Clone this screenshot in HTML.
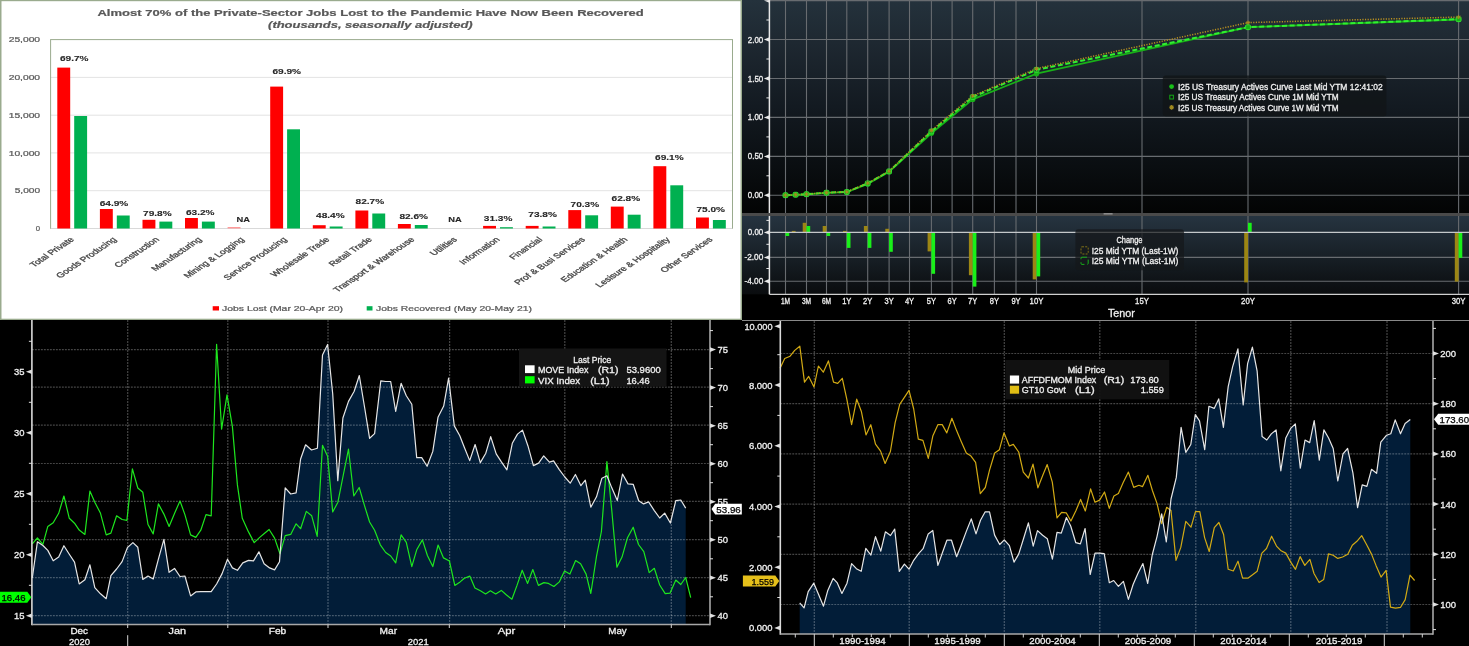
<!DOCTYPE html><html><head><meta charset="utf-8"><style>html,body{margin:0;padding:0;background:#000;overflow:hidden}svg{display:block;will-change:transform}text{font-family:"Liberation Sans",sans-serif}</style></head><body>
<svg width="1469" height="646" viewBox="0 0 1469 646">
<rect x="0" y="320" width="742" height="326" fill="#000"/>
<polygon points="32.3,624.5 32.3,578.0 37.4,541.8 42.9,545.5 47.8,550.4 53.2,560.8 58.7,557.1 63.9,545.7 69.3,554.2 74.5,562.1 79.2,583.9 84.9,579.7 89.9,564.8 94.8,587.6 100.5,593.8 106.2,598.7 110.9,575.7 116.6,569.0 122.1,561.6 127.4,547.6 132.9,542.6 137.8,547.3 142.8,579.5 148.0,576.0 153.2,579.0 158.4,559.2 163.9,539.4 169.1,572.3 174.5,568.4 180.0,576.5 184.9,576.0 190.6,595.9 195.8,591.9 200.8,591.7 206.0,591.7 211.2,591.7 216.6,584.0 222.1,573.6 227.5,559.2 232.4,567.9 237.4,570.3 242.8,562.9 248.5,560.4 253.5,560.9 258.9,551.8 264.1,563.7 269.6,567.9 274.6,569.9 279.5,561.7 285.2,487.8 290.7,494.0 296.1,492.8 300.6,459.0 305.6,444.8 311.5,450.0 317.4,448.2 322.5,354.9 327.6,344.5 332.7,393.7 337.8,480.6 342.9,418.0 348.5,401.4 354.2,391.2 359.3,375.5 364.7,408.0 369.6,438.3 374.6,433.6 380.8,380.8 385.7,381.5 390.7,381.5 395.7,411.3 401.1,383.3 406.3,395.7 411.8,404.3 416.7,457.6 421.7,457.6 427.1,466.3 432.8,451.4 438.0,417.3 443.7,406.1 448.6,378.0 454.3,425.9 459.8,435.8 464.7,448.2 469.7,460.6 475.1,444.5 480.3,462.6 485.8,453.2 490.7,436.6 496.2,453.9 501.4,461.9 506.9,469.8 512.3,443.3 517.5,434.1 522.5,430.1 527.9,445.7 533.4,465.6 538.6,463.1 543.7,455.9 549.4,462.1 553.6,460.9 559.3,469.6 564.8,477.0 570.2,483.2 575.4,474.5 580.9,485.7 585.3,480.2 590.8,507.2 596.5,496.8 601.9,478.2 606.9,475.7 611.9,488.1 617.3,500.5 622.5,474.0 628.0,483.9 633.2,484.3 638.7,500.7 643.6,503.9 648.6,501.9 654.3,510.6 659.7,518.0 664.7,513.1 670.4,523.0 675.8,500.7 680.8,500.0 685.7,508.1 685.7,624.5" fill="#021d38"/>
<line x1="31.9" y1="349.7" x2="710.0" y2="349.7" stroke="#ffffff" stroke-opacity="0.27" stroke-width="1.2" stroke-dasharray="1.9 1.1"/>
<line x1="31.9" y1="387.1" x2="710.0" y2="387.1" stroke="#ffffff" stroke-opacity="0.27" stroke-width="1.2" stroke-dasharray="1.9 1.1"/>
<line x1="31.9" y1="425.2" x2="710.0" y2="425.2" stroke="#ffffff" stroke-opacity="0.27" stroke-width="1.2" stroke-dasharray="1.9 1.1"/>
<line x1="31.9" y1="463.5" x2="710.0" y2="463.5" stroke="#ffffff" stroke-opacity="0.27" stroke-width="1.2" stroke-dasharray="1.9 1.1"/>
<line x1="31.9" y1="501.4" x2="710.0" y2="501.4" stroke="#ffffff" stroke-opacity="0.27" stroke-width="1.2" stroke-dasharray="1.9 1.1"/>
<line x1="31.9" y1="539.6" x2="710.0" y2="539.6" stroke="#ffffff" stroke-opacity="0.27" stroke-width="1.2" stroke-dasharray="1.9 1.1"/>
<line x1="31.9" y1="577.6" x2="710.0" y2="577.6" stroke="#ffffff" stroke-opacity="0.27" stroke-width="1.2" stroke-dasharray="1.9 1.1"/>
<line x1="31.9" y1="615.7" x2="710.0" y2="615.7" stroke="#ffffff" stroke-opacity="0.27" stroke-width="1.2" stroke-dasharray="1.9 1.1"/>
<line x1="127.7" y1="320" x2="127.7" y2="624.5" stroke="#ffffff" stroke-opacity="0.27" stroke-width="1.2" stroke-dasharray="1.9 1.1"/>
<line x1="227.8" y1="320" x2="227.8" y2="624.5" stroke="#ffffff" stroke-opacity="0.27" stroke-width="1.2" stroke-dasharray="1.9 1.1"/>
<line x1="328.0" y1="320" x2="328.0" y2="624.5" stroke="#ffffff" stroke-opacity="0.27" stroke-width="1.2" stroke-dasharray="1.9 1.1"/>
<line x1="449.6" y1="320" x2="449.6" y2="624.5" stroke="#ffffff" stroke-opacity="0.27" stroke-width="1.2" stroke-dasharray="1.9 1.1"/>
<line x1="564.8" y1="320" x2="564.8" y2="624.5" stroke="#ffffff" stroke-opacity="0.27" stroke-width="1.2" stroke-dasharray="1.9 1.1"/>
<line x1="671.3" y1="320" x2="671.3" y2="624.5" stroke="#ffffff" stroke-opacity="0.27" stroke-width="1.2" stroke-dasharray="1.9 1.1"/>
<polyline points="32.3,543.8 37.4,538.0 42.9,544.3 47.8,526.4 53.2,522.7 58.7,513.3 63.9,496.0 69.3,518.3 74.5,523.2 79.2,530.1 84.9,534.4 89.9,491.0 94.8,502.2 100.5,513.3 106.2,534.9 110.9,533.1 116.6,515.8 122.1,519.5 126.9,520.3 132.4,468.8 137.8,488.0 142.8,492.3 148.0,524.5 153.2,533.9 158.4,503.9 163.9,514.1 169.1,526.5 174.5,513.4 180.0,501.0 184.9,514.6 190.6,534.9 195.8,537.4 200.8,530.2 206.0,514.6 211.2,515.8 216.6,344.4 221.6,429.1 227.0,394.9 232.4,426.6 237.4,484.9 242.3,518.3 248.5,531.9 254.2,542.6 259.7,537.4 264.6,533.2 269.1,529.5 274.6,538.1 280.0,553.7 285.2,535.7 290.7,534.4 296.1,523.8 300.6,528.7 306.3,511.4 311.7,515.8 317.2,536.4 322.5,445.3 327.6,456.3 332.7,512.0 337.9,502.2 343.2,475.5 348.5,449.2 353.8,496.0 359.2,487.5 364.2,504.7 369.6,522.0 374.6,530.2 380.3,544.8 385.7,552.5 390.7,556.0 395.7,562.9 401.1,534.9 406.3,542.3 411.8,566.6 416.7,549.8 422.4,539.9 427.4,555.5 432.8,566.6 438.1,545.0 443.5,557.9 449.4,561.0 454.8,585.4 460.1,581.9 464.4,578.3 469.8,576.1 474.9,588.0 480.4,590.8 485.6,593.9 490.4,590.8 495.7,593.9 501.3,590.4 506.5,595.0 511.9,599.2 517.0,585.4 522.2,570.2 527.6,583.4 532.8,569.5 538.4,585.4 543.9,582.6 548.5,583.4 553.9,586.5 559.3,581.9 564.5,571.0 569.9,574.1 575.6,560.5 580.6,563.7 586.1,574.1 590.8,593.5 596.5,556.3 601.4,531.5 606.9,461.6 611.9,511.7 616.9,567.2 622.0,557.1 627.5,537.7 633.2,527.2 638.5,544.5 643.8,551.6 649.2,572.6 654.3,568.3 659.7,585.0 665.2,593.6 670.1,593.1 675.8,580.0 680.8,584.5 685.7,577.5 690.7,597.6" fill="none" stroke="#1ee61e" stroke-width="1.2" stroke-linejoin="round"/>
<polyline points="32.3,578.0 37.4,541.8 42.9,545.5 47.8,550.4 53.2,560.8 58.7,557.1 63.9,545.7 69.3,554.2 74.5,562.1 79.2,583.9 84.9,579.7 89.9,564.8 94.8,587.6 100.5,593.8 106.2,598.7 110.9,575.7 116.6,569.0 122.1,561.6 127.4,547.6 132.9,542.6 137.8,547.3 142.8,579.5 148.0,576.0 153.2,579.0 158.4,559.2 163.9,539.4 169.1,572.3 174.5,568.4 180.0,576.5 184.9,576.0 190.6,595.9 195.8,591.9 200.8,591.7 206.0,591.7 211.2,591.7 216.6,584.0 222.1,573.6 227.5,559.2 232.4,567.9 237.4,570.3 242.8,562.9 248.5,560.4 253.5,560.9 258.9,551.8 264.1,563.7 269.6,567.9 274.6,569.9 279.5,561.7 285.2,487.8 290.7,494.0 296.1,492.8 300.6,459.0 305.6,444.8 311.5,450.0 317.4,448.2 322.5,354.9 327.6,344.5 332.7,393.7 337.8,480.6 342.9,418.0 348.5,401.4 354.2,391.2 359.3,375.5 364.7,408.0 369.6,438.3 374.6,433.6 380.8,380.8 385.7,381.5 390.7,381.5 395.7,411.3 401.1,383.3 406.3,395.7 411.8,404.3 416.7,457.6 421.7,457.6 427.1,466.3 432.8,451.4 438.0,417.3 443.7,406.1 448.6,378.0 454.3,425.9 459.8,435.8 464.7,448.2 469.7,460.6 475.1,444.5 480.3,462.6 485.8,453.2 490.7,436.6 496.2,453.9 501.4,461.9 506.9,469.8 512.3,443.3 517.5,434.1 522.5,430.1 527.9,445.7 533.4,465.6 538.6,463.1 543.7,455.9 549.4,462.1 553.6,460.9 559.3,469.6 564.8,477.0 570.2,483.2 575.4,474.5 580.9,485.7 585.3,480.2 590.8,507.2 596.5,496.8 601.9,478.2 606.9,475.7 611.9,488.1 617.3,500.5 622.5,474.0 628.0,483.9 633.2,484.3 638.7,500.7 643.6,503.9 648.6,501.9 654.3,510.6 659.7,518.0 664.7,513.1 670.4,523.0 675.8,500.7 680.8,500.0 685.7,508.1" fill="none" stroke="#e6e6e6" stroke-width="1.2" stroke-linejoin="round"/>
<line x1="31.9" y1="320" x2="31.9" y2="625.3" stroke="#dadada" stroke-width="1.6"/>
<line x1="710.0" y1="320" x2="710.0" y2="625.3" stroke="#a8a8a8" stroke-width="1.6"/>
<line x1="31.9" y1="624.5" x2="710.0" y2="624.5" stroke="#a8a8a8" stroke-width="1.6"/>
<path d="M31.9 369.5 L25.9 371.8 L31.9 374.1Z" fill="#e0e0e0"/>
<text x="24.6" y="375.2" font-size="9.6" fill="#f0f0f0" text-anchor="end" textLength="10.5" lengthAdjust="spacingAndGlyphs" stroke="#f0f0f0" stroke-width="0.3">35</text>
<path d="M31.9 430.5 L25.9 432.8 L31.9 435.1Z" fill="#e0e0e0"/>
<text x="24.6" y="436.2" font-size="9.6" fill="#f0f0f0" text-anchor="end" textLength="10.5" lengthAdjust="spacingAndGlyphs" stroke="#f0f0f0" stroke-width="0.3">30</text>
<path d="M31.9 491.5 L25.9 493.8 L31.9 496.1Z" fill="#e0e0e0"/>
<text x="24.6" y="497.2" font-size="9.6" fill="#f0f0f0" text-anchor="end" textLength="10.5" lengthAdjust="spacingAndGlyphs" stroke="#f0f0f0" stroke-width="0.3">25</text>
<path d="M31.9 552.5 L25.9 554.8 L31.9 557.1Z" fill="#e0e0e0"/>
<text x="24.6" y="558.2" font-size="9.6" fill="#f0f0f0" text-anchor="end" textLength="10.5" lengthAdjust="spacingAndGlyphs" stroke="#f0f0f0" stroke-width="0.3">20</text>
<path d="M31.9 613.5 L25.9 615.8 L31.9 618.1Z" fill="#e0e0e0"/>
<text x="24.6" y="619.2" font-size="9.6" fill="#f0f0f0" text-anchor="end" textLength="10.5" lengthAdjust="spacingAndGlyphs" stroke="#f0f0f0" stroke-width="0.3">15</text>
<line x1="28.9" y1="341.3" x2="31.9" y2="341.3" stroke="#e0e0e0" stroke-width="1"/>
<line x1="28.9" y1="402.3" x2="31.9" y2="402.3" stroke="#e0e0e0" stroke-width="1"/>
<line x1="28.9" y1="463.3" x2="31.9" y2="463.3" stroke="#e0e0e0" stroke-width="1"/>
<line x1="28.9" y1="524.3" x2="31.9" y2="524.3" stroke="#e0e0e0" stroke-width="1"/>
<line x1="28.9" y1="585.3" x2="31.9" y2="585.3" stroke="#e0e0e0" stroke-width="1"/>
<path d="M710.0 347.3 L716.0 349.6 L710.0 351.9Z" fill="#e0e0e0"/>
<text x="717.4" y="353.0" font-size="9.6" fill="#f0f0f0" textLength="10.5" lengthAdjust="spacingAndGlyphs" stroke="#f0f0f0" stroke-width="0.3">75</text>
<line x1="710.0" y1="368.6" x2="713.0" y2="368.6" stroke="#e0e0e0" stroke-width="1"/>
<path d="M710.0 385.3 L716.0 387.6 L710.0 389.9Z" fill="#e0e0e0"/>
<text x="717.4" y="391.0" font-size="9.6" fill="#f0f0f0" textLength="10.5" lengthAdjust="spacingAndGlyphs" stroke="#f0f0f0" stroke-width="0.3">70</text>
<line x1="710.0" y1="406.6" x2="713.0" y2="406.6" stroke="#e0e0e0" stroke-width="1"/>
<path d="M710.0 423.4 L716.0 425.7 L710.0 428.0Z" fill="#e0e0e0"/>
<text x="717.4" y="429.1" font-size="9.6" fill="#f0f0f0" textLength="10.5" lengthAdjust="spacingAndGlyphs" stroke="#f0f0f0" stroke-width="0.3">65</text>
<line x1="710.0" y1="444.7" x2="713.0" y2="444.7" stroke="#e0e0e0" stroke-width="1"/>
<path d="M710.0 461.4 L716.0 463.7 L710.0 466.0Z" fill="#e0e0e0"/>
<text x="717.4" y="467.1" font-size="9.6" fill="#f0f0f0" textLength="10.5" lengthAdjust="spacingAndGlyphs" stroke="#f0f0f0" stroke-width="0.3">60</text>
<line x1="710.0" y1="482.7" x2="713.0" y2="482.7" stroke="#e0e0e0" stroke-width="1"/>
<path d="M710.0 499.4 L716.0 501.7 L710.0 504.0Z" fill="#e0e0e0"/>
<text x="717.4" y="505.1" font-size="9.6" fill="#f0f0f0" textLength="10.5" lengthAdjust="spacingAndGlyphs" stroke="#f0f0f0" stroke-width="0.3">55</text>
<line x1="710.0" y1="520.7" x2="713.0" y2="520.7" stroke="#e0e0e0" stroke-width="1"/>
<path d="M710.0 537.4 L716.0 539.7 L710.0 542.0Z" fill="#e0e0e0"/>
<text x="717.4" y="543.1" font-size="9.6" fill="#f0f0f0" textLength="10.5" lengthAdjust="spacingAndGlyphs" stroke="#f0f0f0" stroke-width="0.3">50</text>
<line x1="710.0" y1="558.8" x2="713.0" y2="558.8" stroke="#e0e0e0" stroke-width="1"/>
<path d="M710.0 575.5 L716.0 577.8 L710.0 580.1Z" fill="#e0e0e0"/>
<text x="717.4" y="581.2" font-size="9.6" fill="#f0f0f0" textLength="10.5" lengthAdjust="spacingAndGlyphs" stroke="#f0f0f0" stroke-width="0.3">45</text>
<line x1="710.0" y1="596.8" x2="713.0" y2="596.8" stroke="#e0e0e0" stroke-width="1"/>
<path d="M710.0 613.5 L716.0 615.8 L710.0 618.1Z" fill="#e0e0e0"/>
<text x="717.4" y="619.2" font-size="9.6" fill="#f0f0f0" textLength="10.5" lengthAdjust="spacingAndGlyphs" stroke="#f0f0f0" stroke-width="0.3">40</text>
<line x1="710.0" y1="330.6" x2="713.0" y2="330.6" stroke="#e0e0e0" stroke-width="1"/>
<line x1="127.7" y1="624.5" x2="127.7" y2="628.0" stroke="#d4d4d4" stroke-width="1"/>
<line x1="227.8" y1="624.5" x2="227.8" y2="628.0" stroke="#d4d4d4" stroke-width="1"/>
<line x1="328.0" y1="624.5" x2="328.0" y2="628.0" stroke="#d4d4d4" stroke-width="1"/>
<line x1="449.3" y1="624.5" x2="449.3" y2="628.0" stroke="#d4d4d4" stroke-width="1"/>
<line x1="564.6" y1="624.5" x2="564.6" y2="628.0" stroke="#d4d4d4" stroke-width="1"/>
<line x1="671.3" y1="624.5" x2="671.3" y2="628.0" stroke="#d4d4d4" stroke-width="1"/>
<line x1="127.7" y1="635.2" x2="127.7" y2="646" stroke="#d4d4d4" stroke-width="1"/>
<text x="79.2" y="634.4" font-size="9.4" fill="#f0f0f0" text-anchor="middle" textLength="17.5" lengthAdjust="spacingAndGlyphs" stroke="#f0f0f0" stroke-width="0.3">Dec</text>
<text x="177.3" y="634.4" font-size="9.4" fill="#f0f0f0" text-anchor="middle" textLength="17.5" lengthAdjust="spacingAndGlyphs" stroke="#f0f0f0" stroke-width="0.3">Jan</text>
<text x="277.5" y="634.4" font-size="9.4" fill="#f0f0f0" text-anchor="middle" textLength="17.5" lengthAdjust="spacingAndGlyphs" stroke="#f0f0f0" stroke-width="0.3">Feb</text>
<text x="388.3" y="634.4" font-size="9.4" fill="#f0f0f0" text-anchor="middle" textLength="17.5" lengthAdjust="spacingAndGlyphs" stroke="#f0f0f0" stroke-width="0.3">Mar</text>
<text x="506.6" y="634.4" font-size="9.4" fill="#f0f0f0" text-anchor="middle" textLength="17.5" lengthAdjust="spacingAndGlyphs" stroke="#f0f0f0" stroke-width="0.3">Apr</text>
<text x="617.5" y="634.4" font-size="9.4" fill="#f0f0f0" text-anchor="middle" textLength="18.5" lengthAdjust="spacingAndGlyphs" stroke="#f0f0f0" stroke-width="0.3">May</text>
<text x="79.5" y="644.6" font-size="9.4" fill="#f0f0f0" text-anchor="middle" textLength="21.0" lengthAdjust="spacingAndGlyphs" stroke="#f0f0f0" stroke-width="0.3">2020</text>
<text x="418.3" y="644.6" font-size="9.4" fill="#f0f0f0" text-anchor="middle" textLength="21.0" lengthAdjust="spacingAndGlyphs" stroke="#f0f0f0" stroke-width="0.3">2021</text>
<rect x="519" y="348.5" width="147.5" height="38" fill="#141414"/>
<text x="592.3" y="362.6" font-size="9.2" fill="#f0f0f0" text-anchor="middle" textLength="38.0" lengthAdjust="spacingAndGlyphs" stroke="#f0f0f0" stroke-width="0.3">Last Price</text>
<rect x="525" y="365.3" width="9.6" height="7.8" fill="#ffffff"/>
<rect x="525" y="376.2" width="9.6" height="7.2" fill="#00ff00"/>
<text x="538.0" y="372.9" font-size="9.2" fill="#f0f0f0" textLength="50.5" lengthAdjust="spacingAndGlyphs" stroke="#f0f0f0" stroke-width="0.3">MOVE Index</text>
<text x="598.0" y="372.9" font-size="9.2" fill="#f0f0f0" textLength="20.5" lengthAdjust="spacingAndGlyphs" stroke="#f0f0f0" stroke-width="0.3">(R1)</text>
<text x="626.4" y="372.9" font-size="9.2" fill="#f0f0f0" textLength="34.4" lengthAdjust="spacingAndGlyphs" stroke="#f0f0f0" stroke-width="0.3">53.9600</text>
<text x="538.0" y="383.6" font-size="9.2" fill="#f0f0f0" textLength="42.0" lengthAdjust="spacingAndGlyphs" stroke="#f0f0f0" stroke-width="0.3">VIX Index</text>
<text x="590.2" y="383.6" font-size="9.2" fill="#f0f0f0" textLength="19.4" lengthAdjust="spacingAndGlyphs" stroke="#f0f0f0" stroke-width="0.3">(L1)</text>
<text x="626.4" y="383.6" font-size="9.2" fill="#f0f0f0" textLength="23.3" lengthAdjust="spacingAndGlyphs" stroke="#f0f0f0" stroke-width="0.3">16.46</text>
<path d="M0 591.7 L27.3 591.7 L31.3 597.25 L27.3 602.8 L0 602.8Z" fill="#00ff00"/>
<text x="25.5" y="601.0" font-size="9.4" fill="#000" text-anchor="end" textLength="24.0" lengthAdjust="spacingAndGlyphs" stroke="#000" stroke-width="0.25">16.46</text>
<path d="M711.5 509.1 L715.2 503.7 L741.8 503.7 L741.8 514.5 L715.2 514.5Z" fill="#ffffff"/>
<text x="716.3" y="512.6" font-size="9.4" fill="#000" textLength="24.5" lengthAdjust="spacingAndGlyphs" stroke="#000" stroke-width="0.25">53.96</text>
<rect x="742" y="320" width="727" height="326" fill="#000"/>
<line x1="742" y1="320.4" x2="1469" y2="320.4" stroke="#9a9a9a" stroke-width="1"/>
<polygon points="799.7,634.0 799.7,602.8 804.1,607.9 808.2,591.7 813.8,583.2 818.6,594.6 823.5,606.2 827.8,590.4 833.1,578.4 837.3,582.9 841.9,593.4 847.0,583.2 851.6,563.6 856.4,568.7 861.2,571.3 865.8,548.3 870.9,555.1 875.5,536.7 880.8,551.2 885.4,531.8 890.5,535.5 894.7,529.1 899.3,571.4 904.4,564.1 909.0,569.2 913.7,560.3 918.8,553.3 923.1,548.7 928.2,533.9 932.8,530.5 937.9,565.4 942.3,553.0 946.9,540.2 951.5,540.2 956.6,556.7 961.4,544.5 966.5,530.9 971.3,518.9 976.0,533.9 980.5,520.3 985.2,511.8 989.5,511.8 994.6,535.1 999.7,544.5 1004.3,539.9 1009.4,545.6 1014.0,562.1 1018.7,554.1 1023.5,538.7 1028.4,522.9 1033.2,546.1 1037.5,530.6 1042.6,535.3 1047.3,538.7 1052.4,559.2 1057.0,532.4 1061.3,533.1 1066.4,517.5 1070.7,526.0 1075.8,542.7 1080.4,543.9 1085.1,528.5 1090.2,574.5 1095.0,553.2 1099.6,553.2 1104.2,553.6 1109.3,582.7 1113.7,580.5 1118.4,586.4 1123.4,581.4 1128.4,599.4 1133.2,584.2 1137.9,573.4 1142.9,563.6 1147.7,583.5 1152.2,555.0 1157.0,536.6 1161.7,513.8 1166.3,542.0 1171.0,499.0 1176.3,477.4 1181.1,427.4 1185.8,452.4 1190.8,444.5 1195.3,414.7 1199.5,420.8 1204.7,449.7 1208.9,406.3 1214.2,408.4 1218.7,398.9 1223.4,427.4 1228.2,386.6 1232.6,366.8 1237.9,348.9 1243.2,405.0 1247.6,363.7 1252.4,347.1 1257.1,370.8 1262.1,436.6 1266.8,440.0 1271.3,433.9 1276.1,430.0 1280.8,470.8 1285.8,437.9 1290.5,428.7 1295.3,423.9 1300.3,468.2 1305.0,440.0 1309.7,442.6 1314.2,420.7 1319.3,460.1 1323.9,429.9 1328.6,438.0 1333.2,448.5 1337.8,481.0 1343.0,453.8 1347.6,448.5 1352.9,472.8 1357.6,507.6 1362.2,484.9 1366.9,486.3 1371.5,469.3 1376.6,473.3 1380.8,442.2 1386.6,435.2 1390.8,433.8 1395.2,419.9 1400.5,433.8 1405.1,423.4 1410.3,419.5 1410.3,634.0" fill="#021d38"/>
<line x1="780.3" y1="353.5" x2="1433.0" y2="353.5" stroke="#ffffff" stroke-opacity="0.27" stroke-width="1.2" stroke-dasharray="1.9 1.1"/>
<line x1="780.3" y1="403.7" x2="1433.0" y2="403.7" stroke="#ffffff" stroke-opacity="0.27" stroke-width="1.2" stroke-dasharray="1.9 1.1"/>
<line x1="780.3" y1="453.9" x2="1433.0" y2="453.9" stroke="#ffffff" stroke-opacity="0.27" stroke-width="1.2" stroke-dasharray="1.9 1.1"/>
<line x1="780.3" y1="504.1" x2="1433.0" y2="504.1" stroke="#ffffff" stroke-opacity="0.27" stroke-width="1.2" stroke-dasharray="1.9 1.1"/>
<line x1="780.3" y1="554.3" x2="1433.0" y2="554.3" stroke="#ffffff" stroke-opacity="0.27" stroke-width="1.2" stroke-dasharray="1.9 1.1"/>
<line x1="780.3" y1="604.5" x2="1433.0" y2="604.5" stroke="#ffffff" stroke-opacity="0.27" stroke-width="1.2" stroke-dasharray="1.9 1.1"/>
<line x1="814.3" y1="321" x2="814.3" y2="634.0" stroke="#ffffff" stroke-opacity="0.27" stroke-width="1.2" stroke-dasharray="1.9 1.1"/>
<line x1="909.2" y1="321" x2="909.2" y2="634.0" stroke="#ffffff" stroke-opacity="0.27" stroke-width="1.2" stroke-dasharray="1.9 1.1"/>
<line x1="1004.3" y1="321" x2="1004.3" y2="634.0" stroke="#ffffff" stroke-opacity="0.27" stroke-width="1.2" stroke-dasharray="1.9 1.1"/>
<line x1="1099.8" y1="321" x2="1099.8" y2="634.0" stroke="#ffffff" stroke-opacity="0.27" stroke-width="1.2" stroke-dasharray="1.9 1.1"/>
<line x1="1195.8" y1="321" x2="1195.8" y2="634.0" stroke="#ffffff" stroke-opacity="0.27" stroke-width="1.2" stroke-dasharray="1.9 1.1"/>
<line x1="1290.8" y1="321" x2="1290.8" y2="634.0" stroke="#ffffff" stroke-opacity="0.27" stroke-width="1.2" stroke-dasharray="1.9 1.1"/>
<line x1="1387.0" y1="321" x2="1387.0" y2="634.0" stroke="#ffffff" stroke-opacity="0.27" stroke-width="1.2" stroke-dasharray="1.9 1.1"/>
<polyline points="780.1,368.3 784.7,358.5 790.1,356.2 794.7,350.4 799.8,346.2 804.5,382.2 808.7,376.4 814.0,386.9 818.4,366.0 823.3,372.2 828.4,360.9 833.5,382.2 837.7,383.4 842.3,378.3 846.9,399.6 851.6,424.7 856.7,399.2 861.3,411.2 866.0,434.9 870.8,424.7 875.5,444.2 880.6,451.1 885.1,463.5 890.4,451.5 895.1,422.9 899.7,404.4 904.4,397.4 909.0,390.4 913.7,409.0 918.3,439.2 922.9,440.3 928.3,458.4 932.9,435.7 938.0,424.6 942.2,424.6 946.8,432.9 951.9,418.3 956.6,430.6 961.2,441.5 966.3,453.1 971.0,456.1 975.6,462.4 980.3,493.7 985.3,487.5 989.6,469.9 994.7,453.0 999.4,449.7 1004.0,432.8 1009.4,446.0 1013.3,444.4 1018.7,452.0 1023.3,472.2 1028.4,478.0 1033.0,464.1 1037.9,487.8 1042.6,475.7 1047.2,464.6 1052.3,482.2 1057.0,517.9 1061.6,512.4 1066.2,512.8 1070.9,521.0 1076.0,510.5 1080.6,499.4 1085.3,511.0 1090.6,488.9 1095.0,502.2 1099.6,500.1 1104.5,492.0 1109.3,508.4 1113.9,496.0 1118.4,493.5 1123.2,482.6 1128.4,472.1 1133.7,487.4 1138.9,485.3 1142.6,486.6 1147.9,475.3 1152.4,490.5 1157.0,503.4 1161.7,523.6 1166.7,507.3 1171.0,510.6 1176.0,560.4 1180.8,547.4 1185.8,521.4 1191.0,527.2 1195.5,511.7 1199.8,511.7 1204.6,537.6 1209.2,551.5 1214.3,527.6 1218.9,522.5 1223.6,534.5 1228.2,569.3 1233.3,571.0 1238.0,561.2 1242.6,578.2 1247.9,578.2 1252.6,574.7 1257.2,571.2 1261.9,553.1 1266.5,548.5 1271.6,536.2 1276.5,546.1 1281.1,550.8 1285.8,553.1 1290.9,562.4 1295.5,569.3 1300.1,556.6 1304.8,565.4 1309.9,559.4 1314.0,573.5 1319.1,582.5 1323.7,579.5 1328.5,553.9 1333.1,555.3 1337.8,558.4 1342.6,557.0 1347.8,554.3 1352.3,545.3 1356.9,541.3 1361.7,535.6 1366.4,544.3 1371.4,553.9 1376.0,565.4 1381.0,577.1 1386.1,570.4 1390.5,607.1 1395.5,608.1 1400.6,607.3 1405.2,599.6 1410.0,575.1 1414.6,580.5" fill="none" stroke="#d2aa14" stroke-width="1.2" stroke-linejoin="round"/>
<polyline points="799.7,602.8 804.1,607.9 808.2,591.7 813.8,583.2 818.6,594.6 823.5,606.2 827.8,590.4 833.1,578.4 837.3,582.9 841.9,593.4 847.0,583.2 851.6,563.6 856.4,568.7 861.2,571.3 865.8,548.3 870.9,555.1 875.5,536.7 880.8,551.2 885.4,531.8 890.5,535.5 894.7,529.1 899.3,571.4 904.4,564.1 909.0,569.2 913.7,560.3 918.8,553.3 923.1,548.7 928.2,533.9 932.8,530.5 937.9,565.4 942.3,553.0 946.9,540.2 951.5,540.2 956.6,556.7 961.4,544.5 966.5,530.9 971.3,518.9 976.0,533.9 980.5,520.3 985.2,511.8 989.5,511.8 994.6,535.1 999.7,544.5 1004.3,539.9 1009.4,545.6 1014.0,562.1 1018.7,554.1 1023.5,538.7 1028.4,522.9 1033.2,546.1 1037.5,530.6 1042.6,535.3 1047.3,538.7 1052.4,559.2 1057.0,532.4 1061.3,533.1 1066.4,517.5 1070.7,526.0 1075.8,542.7 1080.4,543.9 1085.1,528.5 1090.2,574.5 1095.0,553.2 1099.6,553.2 1104.2,553.6 1109.3,582.7 1113.7,580.5 1118.4,586.4 1123.4,581.4 1128.4,599.4 1133.2,584.2 1137.9,573.4 1142.9,563.6 1147.7,583.5 1152.2,555.0 1157.0,536.6 1161.7,513.8 1166.3,542.0 1171.0,499.0 1176.3,477.4 1181.1,427.4 1185.8,452.4 1190.8,444.5 1195.3,414.7 1199.5,420.8 1204.7,449.7 1208.9,406.3 1214.2,408.4 1218.7,398.9 1223.4,427.4 1228.2,386.6 1232.6,366.8 1237.9,348.9 1243.2,405.0 1247.6,363.7 1252.4,347.1 1257.1,370.8 1262.1,436.6 1266.8,440.0 1271.3,433.9 1276.1,430.0 1280.8,470.8 1285.8,437.9 1290.5,428.7 1295.3,423.9 1300.3,468.2 1305.0,440.0 1309.7,442.6 1314.2,420.7 1319.3,460.1 1323.9,429.9 1328.6,438.0 1333.2,448.5 1337.8,481.0 1343.0,453.8 1347.6,448.5 1352.9,472.8 1357.6,507.6 1362.2,484.9 1366.9,486.3 1371.5,469.3 1376.6,473.3 1380.8,442.2 1386.6,435.2 1390.8,433.8 1395.2,419.9 1400.5,433.8 1405.1,423.4 1410.3,419.5" fill="none" stroke="#e6e6e6" stroke-width="1.2" stroke-linejoin="round"/>
<line x1="780.3" y1="321" x2="780.3" y2="634.8" stroke="#dadada" stroke-width="1.6"/>
<line x1="1433.0" y1="321" x2="1433.0" y2="634.8" stroke="#a8a8a8" stroke-width="1.6"/>
<line x1="780.3" y1="634.0" x2="1433.0" y2="634.0" stroke="#a8a8a8" stroke-width="1.6"/>
<path d="M780.3 324.0 L774.3 326.3 L780.3 328.6Z" fill="#e0e0e0"/>
<text x="772.6" y="329.7" font-size="9.6" fill="#f0f0f0" text-anchor="end" textLength="28.2" lengthAdjust="spacingAndGlyphs" stroke="#f0f0f0" stroke-width="0.3">10.000</text>
<path d="M780.3 382.8 L774.3 385.1 L780.3 387.4Z" fill="#e0e0e0"/>
<text x="772.6" y="388.5" font-size="9.6" fill="#f0f0f0" text-anchor="end" textLength="23.6" lengthAdjust="spacingAndGlyphs" stroke="#f0f0f0" stroke-width="0.3">8.000</text>
<path d="M780.3 443.5 L774.3 445.8 L780.3 448.1Z" fill="#e0e0e0"/>
<text x="772.6" y="449.2" font-size="9.6" fill="#f0f0f0" text-anchor="end" textLength="23.6" lengthAdjust="spacingAndGlyphs" stroke="#f0f0f0" stroke-width="0.3">6.000</text>
<path d="M780.3 504.2 L774.3 506.5 L780.3 508.8Z" fill="#e0e0e0"/>
<text x="772.6" y="509.9" font-size="9.6" fill="#f0f0f0" text-anchor="end" textLength="23.6" lengthAdjust="spacingAndGlyphs" stroke="#f0f0f0" stroke-width="0.3">4.000</text>
<path d="M780.3 564.9 L774.3 567.2 L780.3 569.5Z" fill="#e0e0e0"/>
<text x="772.6" y="570.6" font-size="9.6" fill="#f0f0f0" text-anchor="end" textLength="23.6" lengthAdjust="spacingAndGlyphs" stroke="#f0f0f0" stroke-width="0.3">2.000</text>
<path d="M780.3 625.6 L774.3 627.9 L780.3 630.2Z" fill="#e0e0e0"/>
<text x="772.6" y="631.3" font-size="9.6" fill="#f0f0f0" text-anchor="end" textLength="23.6" lengthAdjust="spacingAndGlyphs" stroke="#f0f0f0" stroke-width="0.3">0.000</text>
<line x1="777.3" y1="354.7" x2="780.3" y2="354.7" stroke="#e0e0e0" stroke-width="1"/>
<line x1="777.3" y1="415.4" x2="780.3" y2="415.4" stroke="#e0e0e0" stroke-width="1"/>
<line x1="777.3" y1="476.1" x2="780.3" y2="476.1" stroke="#e0e0e0" stroke-width="1"/>
<line x1="777.3" y1="536.8" x2="780.3" y2="536.8" stroke="#e0e0e0" stroke-width="1"/>
<line x1="777.3" y1="597.5" x2="780.3" y2="597.5" stroke="#e0e0e0" stroke-width="1"/>
<path d="M1433.0 351.2 L1439.0 353.5 L1433.0 355.8Z" fill="#e0e0e0"/>
<text x="1440.3" y="356.9" font-size="9.6" fill="#f0f0f0" textLength="15.8" lengthAdjust="spacingAndGlyphs" stroke="#f0f0f0" stroke-width="0.3">200</text>
<path d="M1433.0 401.4 L1439.0 403.7 L1433.0 406.0Z" fill="#e0e0e0"/>
<text x="1440.3" y="407.1" font-size="9.6" fill="#f0f0f0" textLength="15.8" lengthAdjust="spacingAndGlyphs" stroke="#f0f0f0" stroke-width="0.3">180</text>
<path d="M1433.0 451.6 L1439.0 453.9 L1433.0 456.2Z" fill="#e0e0e0"/>
<text x="1440.3" y="457.3" font-size="9.6" fill="#f0f0f0" textLength="15.8" lengthAdjust="spacingAndGlyphs" stroke="#f0f0f0" stroke-width="0.3">160</text>
<path d="M1433.0 501.8 L1439.0 504.1 L1433.0 506.4Z" fill="#e0e0e0"/>
<text x="1440.3" y="507.5" font-size="9.6" fill="#f0f0f0" textLength="15.8" lengthAdjust="spacingAndGlyphs" stroke="#f0f0f0" stroke-width="0.3">140</text>
<path d="M1433.0 552.0 L1439.0 554.3 L1433.0 556.6Z" fill="#e0e0e0"/>
<text x="1440.3" y="557.7" font-size="9.6" fill="#f0f0f0" textLength="15.8" lengthAdjust="spacingAndGlyphs" stroke="#f0f0f0" stroke-width="0.3">120</text>
<path d="M1433.0 602.2 L1439.0 604.5 L1433.0 606.8Z" fill="#e0e0e0"/>
<text x="1440.3" y="607.9" font-size="9.6" fill="#f0f0f0" textLength="15.8" lengthAdjust="spacingAndGlyphs" stroke="#f0f0f0" stroke-width="0.3">100</text>
<line x1="1433.0" y1="328.4" x2="1436.0" y2="328.4" stroke="#e0e0e0" stroke-width="1"/>
<line x1="1433.0" y1="378.6" x2="1436.0" y2="378.6" stroke="#e0e0e0" stroke-width="1"/>
<line x1="1433.0" y1="428.8" x2="1436.0" y2="428.8" stroke="#e0e0e0" stroke-width="1"/>
<line x1="1433.0" y1="479.0" x2="1436.0" y2="479.0" stroke="#e0e0e0" stroke-width="1"/>
<line x1="1433.0" y1="529.2" x2="1436.0" y2="529.2" stroke="#e0e0e0" stroke-width="1"/>
<line x1="1433.0" y1="579.4" x2="1436.0" y2="579.4" stroke="#e0e0e0" stroke-width="1"/>
<line x1="1433.0" y1="629.6" x2="1436.0" y2="629.6" stroke="#e0e0e0" stroke-width="1"/>
<line x1="795.3" y1="634.0" x2="795.3" y2="637.5" stroke="#d4d4d4" stroke-width="1"/>
<line x1="814.3" y1="634.0" x2="814.3" y2="646" stroke="#d4d4d4" stroke-width="1"/>
<line x1="833.3" y1="634.0" x2="833.3" y2="637.5" stroke="#d4d4d4" stroke-width="1"/>
<line x1="852.3" y1="634.0" x2="852.3" y2="637.5" stroke="#d4d4d4" stroke-width="1"/>
<line x1="871.3" y1="634.0" x2="871.3" y2="637.5" stroke="#d4d4d4" stroke-width="1"/>
<line x1="890.3" y1="634.0" x2="890.3" y2="637.5" stroke="#d4d4d4" stroke-width="1"/>
<line x1="909.3" y1="634.0" x2="909.3" y2="646" stroke="#d4d4d4" stroke-width="1"/>
<line x1="928.3" y1="634.0" x2="928.3" y2="637.5" stroke="#d4d4d4" stroke-width="1"/>
<line x1="947.3" y1="634.0" x2="947.3" y2="637.5" stroke="#d4d4d4" stroke-width="1"/>
<line x1="966.3" y1="634.0" x2="966.3" y2="637.5" stroke="#d4d4d4" stroke-width="1"/>
<line x1="985.3" y1="634.0" x2="985.3" y2="637.5" stroke="#d4d4d4" stroke-width="1"/>
<line x1="1004.3" y1="634.0" x2="1004.3" y2="646" stroke="#d4d4d4" stroke-width="1"/>
<line x1="1023.3" y1="634.0" x2="1023.3" y2="637.5" stroke="#d4d4d4" stroke-width="1"/>
<line x1="1042.3" y1="634.0" x2="1042.3" y2="637.5" stroke="#d4d4d4" stroke-width="1"/>
<line x1="1061.3" y1="634.0" x2="1061.3" y2="637.5" stroke="#d4d4d4" stroke-width="1"/>
<line x1="1080.3" y1="634.0" x2="1080.3" y2="637.5" stroke="#d4d4d4" stroke-width="1"/>
<line x1="1099.3" y1="634.0" x2="1099.3" y2="646" stroke="#d4d4d4" stroke-width="1"/>
<line x1="1118.3" y1="634.0" x2="1118.3" y2="637.5" stroke="#d4d4d4" stroke-width="1"/>
<line x1="1137.3" y1="634.0" x2="1137.3" y2="637.5" stroke="#d4d4d4" stroke-width="1"/>
<line x1="1156.3" y1="634.0" x2="1156.3" y2="637.5" stroke="#d4d4d4" stroke-width="1"/>
<line x1="1175.3" y1="634.0" x2="1175.3" y2="637.5" stroke="#d4d4d4" stroke-width="1"/>
<line x1="1194.3" y1="634.0" x2="1194.3" y2="646" stroke="#d4d4d4" stroke-width="1"/>
<line x1="1213.3" y1="634.0" x2="1213.3" y2="637.5" stroke="#d4d4d4" stroke-width="1"/>
<line x1="1232.3" y1="634.0" x2="1232.3" y2="637.5" stroke="#d4d4d4" stroke-width="1"/>
<line x1="1251.3" y1="634.0" x2="1251.3" y2="637.5" stroke="#d4d4d4" stroke-width="1"/>
<line x1="1270.3" y1="634.0" x2="1270.3" y2="637.5" stroke="#d4d4d4" stroke-width="1"/>
<line x1="1289.3" y1="634.0" x2="1289.3" y2="646" stroke="#d4d4d4" stroke-width="1"/>
<line x1="1308.3" y1="634.0" x2="1308.3" y2="637.5" stroke="#d4d4d4" stroke-width="1"/>
<line x1="1327.3" y1="634.0" x2="1327.3" y2="637.5" stroke="#d4d4d4" stroke-width="1"/>
<line x1="1346.3" y1="634.0" x2="1346.3" y2="637.5" stroke="#d4d4d4" stroke-width="1"/>
<line x1="1365.3" y1="634.0" x2="1365.3" y2="637.5" stroke="#d4d4d4" stroke-width="1"/>
<line x1="1384.3" y1="634.0" x2="1384.3" y2="646" stroke="#d4d4d4" stroke-width="1"/>
<line x1="1403.3" y1="634.0" x2="1403.3" y2="637.5" stroke="#d4d4d4" stroke-width="1"/>
<line x1="1422.3" y1="634.0" x2="1422.3" y2="637.5" stroke="#d4d4d4" stroke-width="1"/>
<rect x="839.0" y="637" width="46" height="9" fill="#000"/>
<text x="862.5" y="644.3" font-size="9.4" fill="#f0f0f0" text-anchor="middle" textLength="46.5" lengthAdjust="spacingAndGlyphs" stroke="#f0f0f0" stroke-width="0.3">1990-1994</text>
<rect x="934.0" y="637" width="46" height="9" fill="#000"/>
<text x="957.5" y="644.3" font-size="9.4" fill="#f0f0f0" text-anchor="middle" textLength="46.5" lengthAdjust="spacingAndGlyphs" stroke="#f0f0f0" stroke-width="0.3">1995-1999</text>
<rect x="1029.0" y="637" width="46" height="9" fill="#000"/>
<text x="1052.5" y="644.3" font-size="9.4" fill="#f0f0f0" text-anchor="middle" textLength="46.5" lengthAdjust="spacingAndGlyphs" stroke="#f0f0f0" stroke-width="0.3">2000-2004</text>
<rect x="1124.5" y="637" width="46" height="9" fill="#000"/>
<text x="1148.0" y="644.3" font-size="9.4" fill="#f0f0f0" text-anchor="middle" textLength="46.5" lengthAdjust="spacingAndGlyphs" stroke="#f0f0f0" stroke-width="0.3">2005-2009</text>
<rect x="1220.0" y="637" width="46" height="9" fill="#000"/>
<text x="1243.5" y="644.3" font-size="9.4" fill="#f0f0f0" text-anchor="middle" textLength="46.5" lengthAdjust="spacingAndGlyphs" stroke="#f0f0f0" stroke-width="0.3">2010-2014</text>
<rect x="1315.6" y="637" width="46" height="9" fill="#000"/>
<text x="1339.1" y="644.3" font-size="9.4" fill="#f0f0f0" text-anchor="middle" textLength="46.5" lengthAdjust="spacingAndGlyphs" stroke="#f0f0f0" stroke-width="0.3">2015-2019</text>
<rect x="1005.4" y="360" width="163.8" height="39.3" fill="#121212" fill-opacity="0.92"/>
<text x="1086.6" y="372.8" font-size="9.2" fill="#f0f0f0" text-anchor="middle" textLength="37.5" lengthAdjust="spacingAndGlyphs" stroke="#f0f0f0" stroke-width="0.3">Mid Price</text>
<rect x="1009.9" y="375.5" width="9.2" height="8.1" fill="#ffffff"/>
<rect x="1009.9" y="385.7" width="9.2" height="8" fill="#e0be14"/>
<text x="1021.8" y="382.9" font-size="9.2" fill="#f0f0f0" textLength="74.5" lengthAdjust="spacingAndGlyphs" stroke="#f0f0f0" stroke-width="0.3">AFFDFMOM Index</text>
<text x="1103.7" y="382.9" font-size="9.2" fill="#f0f0f0" textLength="20.5" lengthAdjust="spacingAndGlyphs" stroke="#f0f0f0" stroke-width="0.3">(R1)</text>
<text x="1130.2" y="382.9" font-size="9.2" fill="#f0f0f0" textLength="28.6" lengthAdjust="spacingAndGlyphs" stroke="#f0f0f0" stroke-width="0.3">173.60</text>
<text x="1021.8" y="393.0" font-size="9.2" fill="#f0f0f0" textLength="44.0" lengthAdjust="spacingAndGlyphs" stroke="#f0f0f0" stroke-width="0.3">GT10 Govt</text>
<text x="1075.0" y="393.0" font-size="9.2" fill="#f0f0f0" textLength="19.7" lengthAdjust="spacingAndGlyphs" stroke="#f0f0f0" stroke-width="0.3">(L1)</text>
<text x="1163.8" y="393.0" font-size="9.2" fill="#f0f0f0" text-anchor="end" textLength="23.0" lengthAdjust="spacingAndGlyphs" stroke="#f0f0f0" stroke-width="0.3">1.559</text>
<path d="M1434.0 419.3 L1438.2 413.8 L1469 413.8 L1469 424.8 L1438.2 424.8Z" fill="#ffffff"/>
<text x="1439.6" y="423.1" font-size="9.6" fill="#000" textLength="29.5" lengthAdjust="spacingAndGlyphs" stroke="#000" stroke-width="0.25">173.60</text>
<path d="M742.9 575.6 L775.3 575.6 L779.3 581.1 L775.3 586.6 L742.9 586.6Z" fill="#e6c01a"/>
<text x="774.0" y="584.8" font-size="9.4" fill="#000" text-anchor="end" textLength="22.5" lengthAdjust="spacingAndGlyphs" stroke="#000" stroke-width="0.25">1.559</text>
<rect x="0" y="0" width="742" height="320" fill="#9aab8e"/>
<rect x="1.5" y="1.2" width="739" height="317.5" fill="#ffffff"/>
<g transform="scale(1.06,1)">
<text x="91.9" y="15.9" font-size="9.7" fill="#595959" font-weight="bold" textLength="515.5" lengthAdjust="spacingAndGlyphs" stroke="#595959" stroke-width="0.22">Almost 70% of the Private-Sector Jobs Lost to the Pandemic Have Now Been Recovered</text>
<text x="252.9" y="27.6" font-size="9.0" fill="#595959" font-weight="bold" font-style="italic" textLength="193.0" lengthAdjust="spacingAndGlyphs" stroke="#595959" stroke-width="0.22">(thousands, seasonally adjusted)</text>
</g>
<line x1="50.6" y1="77.4" x2="732.5" y2="77.4" stroke="#e3e3e3" stroke-width="1"/>
<line x1="50.6" y1="115.2" x2="732.5" y2="115.2" stroke="#e3e3e3" stroke-width="1"/>
<line x1="50.6" y1="152.9" x2="732.5" y2="152.9" stroke="#e3e3e3" stroke-width="1"/>
<line x1="50.6" y1="190.7" x2="732.5" y2="190.7" stroke="#e3e3e3" stroke-width="1"/>
<line x1="50.6" y1="228.5" x2="732.5" y2="228.5" stroke="#d9d9d9" stroke-width="1"/>
<rect x="50.6" y="39.6" width="681.9" height="188.9" fill="none" stroke="#9aab8e" stroke-width="1"/>
<line x1="50.6" y1="228.5" x2="732.5" y2="228.5" stroke="#d9d9d9" stroke-width="1"/>
<text x="40.1" y="42.2" font-size="7.2" fill="#595959" text-anchor="end" textLength="31.4" lengthAdjust="spacingAndGlyphs" stroke="#595959" stroke-width="0.22">25,000</text>
<text x="40.1" y="80.0" font-size="7.2" fill="#595959" text-anchor="end" textLength="31.4" lengthAdjust="spacingAndGlyphs" stroke="#595959" stroke-width="0.22">20,000</text>
<text x="40.1" y="117.8" font-size="7.2" fill="#595959" text-anchor="end" textLength="31.4" lengthAdjust="spacingAndGlyphs" stroke="#595959" stroke-width="0.22">15,000</text>
<text x="40.1" y="155.5" font-size="7.2" fill="#595959" text-anchor="end" textLength="31.4" lengthAdjust="spacingAndGlyphs" stroke="#595959" stroke-width="0.22">10,000</text>
<text x="40.1" y="193.3" font-size="7.2" fill="#595959" text-anchor="end" textLength="25.4" lengthAdjust="spacingAndGlyphs" stroke="#595959" stroke-width="0.22">5,000</text>
<text x="40.1" y="231.1" font-size="7.2" fill="#595959" text-anchor="end" textLength="4.3" lengthAdjust="spacingAndGlyphs" stroke="#595959" stroke-width="0.22">0</text>
<rect x="57.3" y="67.6" width="12.9" height="160.9" fill="#ff0000"/>
<rect x="74.2" y="116.0" width="12.9" height="112.5" fill="#00b050"/>
<rect x="99.9" y="209.0" width="12.9" height="19.5" fill="#ff0000"/>
<rect x="116.8" y="215.5" width="12.9" height="13.0" fill="#00b050"/>
<rect x="142.5" y="219.8" width="12.9" height="8.7" fill="#ff0000"/>
<rect x="159.4" y="221.6" width="12.9" height="6.9" fill="#00b050"/>
<rect x="185.0" y="218.0" width="12.9" height="10.5" fill="#ff0000"/>
<rect x="201.9" y="221.6" width="12.9" height="6.9" fill="#00b050"/>
<rect x="227.6" y="227.0" width="12.9" height="1.5" fill="#ff9a9a"/>
<rect x="270.2" y="86.6" width="12.9" height="141.9" fill="#ff0000"/>
<rect x="287.1" y="129.3" width="12.9" height="99.2" fill="#00b050"/>
<rect x="312.8" y="225.2" width="12.9" height="3.3" fill="#ff0000"/>
<rect x="329.7" y="226.5" width="12.9" height="2.0" fill="#00b050"/>
<rect x="355.4" y="210.5" width="12.9" height="18.0" fill="#ff0000"/>
<rect x="372.3" y="213.5" width="12.9" height="15.0" fill="#00b050"/>
<rect x="397.9" y="224.0" width="12.9" height="4.5" fill="#ff0000"/>
<rect x="414.8" y="225.0" width="12.9" height="3.5" fill="#00b050"/>
<rect x="483.1" y="225.9" width="12.9" height="2.6" fill="#ff0000"/>
<rect x="500.0" y="227.2" width="12.9" height="1.3" fill="#00b050"/>
<rect x="525.7" y="225.9" width="12.9" height="2.6" fill="#ff0000"/>
<rect x="542.6" y="226.5" width="12.9" height="2.0" fill="#00b050"/>
<rect x="568.3" y="210.1" width="12.9" height="18.4" fill="#ff0000"/>
<rect x="585.2" y="215.3" width="12.9" height="13.2" fill="#00b050"/>
<rect x="610.8" y="206.6" width="12.9" height="21.9" fill="#ff0000"/>
<rect x="627.7" y="214.7" width="12.9" height="13.8" fill="#00b050"/>
<rect x="653.4" y="166.2" width="12.9" height="62.3" fill="#ff0000"/>
<rect x="670.3" y="185.3" width="12.9" height="43.2" fill="#00b050"/>
<rect x="696.0" y="217.5" width="12.9" height="11.0" fill="#ff0000"/>
<rect x="712.9" y="220.0" width="12.9" height="8.5" fill="#00b050"/>
<text x="74.3" y="60.7" font-size="7.3" fill="#262626" text-anchor="middle" font-weight="bold" textLength="28.6" lengthAdjust="spacingAndGlyphs" stroke="#262626" stroke-width="0.1">69.7%</text>
<text x="114.0" y="205.6" font-size="7.3" fill="#262626" text-anchor="middle" font-weight="bold" textLength="28.6" lengthAdjust="spacingAndGlyphs" stroke="#262626" stroke-width="0.1">64.9%</text>
<text x="157.4" y="215.7" font-size="7.3" fill="#262626" text-anchor="middle" font-weight="bold" textLength="28.6" lengthAdjust="spacingAndGlyphs" stroke="#262626" stroke-width="0.1">79.8%</text>
<text x="200.3" y="214.5" font-size="7.3" fill="#262626" text-anchor="middle" font-weight="bold" textLength="28.6" lengthAdjust="spacingAndGlyphs" stroke="#262626" stroke-width="0.1">63.2%</text>
<text x="243.2" y="222.1" font-size="7.3" fill="#262626" text-anchor="middle" font-weight="bold" textLength="13.5" lengthAdjust="spacingAndGlyphs" stroke="#262626" stroke-width="0.1">NA</text>
<text x="286.8" y="74.0" font-size="7.3" fill="#262626" text-anchor="middle" font-weight="bold" textLength="28.6" lengthAdjust="spacingAndGlyphs" stroke="#262626" stroke-width="0.1">69.9%</text>
<text x="330.4" y="217.6" font-size="7.3" fill="#262626" text-anchor="middle" font-weight="bold" textLength="28.6" lengthAdjust="spacingAndGlyphs" stroke="#262626" stroke-width="0.1">48.4%</text>
<text x="369.9" y="203.5" font-size="7.3" fill="#262626" text-anchor="middle" font-weight="bold" textLength="28.6" lengthAdjust="spacingAndGlyphs" stroke="#262626" stroke-width="0.1">82.7%</text>
<text x="413.7" y="218.7" font-size="7.3" fill="#262626" text-anchor="middle" font-weight="bold" textLength="28.6" lengthAdjust="spacingAndGlyphs" stroke="#262626" stroke-width="0.1">82.6%</text>
<text x="455.0" y="222.1" font-size="7.3" fill="#262626" text-anchor="middle" font-weight="bold" textLength="13.5" lengthAdjust="spacingAndGlyphs" stroke="#262626" stroke-width="0.1">NA</text>
<text x="498.1" y="221.1" font-size="7.3" fill="#262626" text-anchor="middle" font-weight="bold" textLength="28.6" lengthAdjust="spacingAndGlyphs" stroke="#262626" stroke-width="0.1">31.3%</text>
<text x="542.6" y="217.4" font-size="7.3" fill="#262626" text-anchor="middle" font-weight="bold" textLength="28.6" lengthAdjust="spacingAndGlyphs" stroke="#262626" stroke-width="0.1">73.8%</text>
<text x="584.9" y="207.3" font-size="7.3" fill="#262626" text-anchor="middle" font-weight="bold" textLength="28.6" lengthAdjust="spacingAndGlyphs" stroke="#262626" stroke-width="0.1">70.3%</text>
<text x="625.9" y="201.4" font-size="7.3" fill="#262626" text-anchor="middle" font-weight="bold" textLength="28.6" lengthAdjust="spacingAndGlyphs" stroke="#262626" stroke-width="0.1">62.8%</text>
<text x="669.4" y="160.4" font-size="7.3" fill="#262626" text-anchor="middle" font-weight="bold" textLength="28.6" lengthAdjust="spacingAndGlyphs" stroke="#262626" stroke-width="0.1">69.1%</text>
<text x="710.8" y="212.4" font-size="7.3" fill="#262626" text-anchor="middle" font-weight="bold" textLength="28.6" lengthAdjust="spacingAndGlyphs" stroke="#262626" stroke-width="0.1">75.0%</text>
<g transform="translate(74.6,240.0) scale(1.48,1) rotate(-45)"><text x="0" y="0" font-size="7.05" fill="#4a4a4a" stroke="#4a4a4a" stroke-width="0.3" text-anchor="end">Total Private</text></g>
<g transform="translate(117.2,240.0) scale(1.48,1) rotate(-45)"><text x="0" y="0" font-size="7.05" fill="#4a4a4a" stroke="#4a4a4a" stroke-width="0.3" text-anchor="end">Goods Producing</text></g>
<g transform="translate(159.8,240.0) scale(1.48,1) rotate(-45)"><text x="0" y="0" font-size="7.05" fill="#4a4a4a" stroke="#4a4a4a" stroke-width="0.3" text-anchor="end">Construction</text></g>
<g transform="translate(202.3,240.0) scale(1.48,1) rotate(-45)"><text x="0" y="0" font-size="7.05" fill="#4a4a4a" stroke="#4a4a4a" stroke-width="0.3" text-anchor="end">Manufacturing</text></g>
<g transform="translate(244.9,240.0) scale(1.48,1) rotate(-45)"><text x="0" y="0" font-size="7.05" fill="#4a4a4a" stroke="#4a4a4a" stroke-width="0.3" text-anchor="end">Mining &amp; Logging</text></g>
<g transform="translate(287.5,240.0) scale(1.48,1) rotate(-45)"><text x="0" y="0" font-size="7.05" fill="#4a4a4a" stroke="#4a4a4a" stroke-width="0.3" text-anchor="end">Service Producing</text></g>
<g transform="translate(330.1,240.0) scale(1.48,1) rotate(-45)"><text x="0" y="0" font-size="7.05" fill="#4a4a4a" stroke="#4a4a4a" stroke-width="0.3" text-anchor="end">Wholesale Trade</text></g>
<g transform="translate(372.7,240.0) scale(1.48,1) rotate(-45)"><text x="0" y="0" font-size="7.05" fill="#4a4a4a" stroke="#4a4a4a" stroke-width="0.3" text-anchor="end">Retail Trade</text></g>
<g transform="translate(415.2,240.0) scale(1.48,1) rotate(-45)"><text x="0" y="0" font-size="7.05" fill="#4a4a4a" stroke="#4a4a4a" stroke-width="0.3" text-anchor="end">Transport &amp; Warehouse</text></g>
<g transform="translate(457.8,240.0) scale(1.48,1) rotate(-45)"><text x="0" y="0" font-size="7.05" fill="#4a4a4a" stroke="#4a4a4a" stroke-width="0.3" text-anchor="end">Utilities</text></g>
<g transform="translate(500.4,240.0) scale(1.48,1) rotate(-45)"><text x="0" y="0" font-size="7.05" fill="#4a4a4a" stroke="#4a4a4a" stroke-width="0.3" text-anchor="end">Information</text></g>
<g transform="translate(543.0,240.0) scale(1.48,1) rotate(-45)"><text x="0" y="0" font-size="7.05" fill="#4a4a4a" stroke="#4a4a4a" stroke-width="0.3" text-anchor="end">Financial</text></g>
<g transform="translate(585.6,240.0) scale(1.48,1) rotate(-45)"><text x="0" y="0" font-size="7.05" fill="#4a4a4a" stroke="#4a4a4a" stroke-width="0.3" text-anchor="end">Prof &amp; Busi Services</text></g>
<g transform="translate(628.1,240.0) scale(1.48,1) rotate(-45)"><text x="0" y="0" font-size="7.05" fill="#4a4a4a" stroke="#4a4a4a" stroke-width="0.3" text-anchor="end">Education &amp; Health</text></g>
<g transform="translate(670.7,240.0) scale(1.48,1) rotate(-45)"><text x="0" y="0" font-size="7.05" fill="#4a4a4a" stroke="#4a4a4a" stroke-width="0.3" text-anchor="end">Lesisure &amp; Hospitality</text></g>
<g transform="translate(713.3,240.0) scale(1.48,1) rotate(-45)"><text x="0" y="0" font-size="7.05" fill="#4a4a4a" stroke="#4a4a4a" stroke-width="0.3" text-anchor="end">Other Services</text></g>
<rect x="212.7" y="306.2" width="6.3" height="4.3" fill="#ff0000"/>
<text x="222.0" y="310.6" font-size="7.2" fill="#595959" textLength="121.0" lengthAdjust="spacingAndGlyphs" stroke="#595959" stroke-width="0.22">Jobs Lost (Mar 20-Apr 20)</text>
<rect x="366.7" y="306.2" width="5.8" height="4.3" fill="#00b050"/>
<text x="376.0" y="310.6" font-size="7.2" fill="#595959" textLength="156.0" lengthAdjust="spacingAndGlyphs" stroke="#595959" stroke-width="0.22">Jobs Recovered (May 20-May 21)</text>
<defs><linearGradient id="gU" x1="0" y1="0" x2="0" y2="1"><stop offset="0" stop-color="#24323c"/><stop offset="0.2" stop-color="#1e2831"/><stop offset="0.5" stop-color="#131a21"/><stop offset="0.78" stop-color="#0a0e11"/><stop offset="1" stop-color="#030404"/></linearGradient><linearGradient id="gL" x1="0" y1="0" x2="0" y2="1"><stop offset="0" stop-color="#263440"/><stop offset="1" stop-color="#0a0c0e"/></linearGradient></defs>
<rect x="742" y="0" width="727" height="320" fill="#000"/>
<rect x="742" y="0" width="727" height="213" fill="url(#gU)"/>
<rect x="742" y="213" width="727" height="3" fill="#4a4a4a"/>
<rect x="1103.6" y="213" width="9" height="1.6" fill="#8a8a8a"/>
<rect x="742" y="216" width="727" height="78.3" fill="url(#gL)"/>
<line x1="769.4" y1="0.6" x2="1469" y2="0.6" stroke="#686c70" stroke-width="1.1"/>
<line x1="769.4" y1="39.5" x2="1469" y2="39.5" stroke="#686c70" stroke-width="1.1"/>
<line x1="769.4" y1="78.5" x2="1469" y2="78.5" stroke="#686c70" stroke-width="1.1"/>
<line x1="769.4" y1="117.4" x2="1469" y2="117.4" stroke="#686c70" stroke-width="1.1"/>
<line x1="769.4" y1="156.4" x2="1469" y2="156.4" stroke="#686c70" stroke-width="1.1"/>
<line x1="769.4" y1="195.3" x2="1469" y2="195.3" stroke="#686c70" stroke-width="1.1"/>
<line x1="785.5" y1="0" x2="785.5" y2="213" stroke="#686c70" stroke-width="1.1"/>
<line x1="785.5" y1="216" x2="785.5" y2="294" stroke="#686c70" stroke-width="1.1"/>
<line x1="806.5" y1="0" x2="806.5" y2="213" stroke="#686c70" stroke-width="1.1"/>
<line x1="806.5" y1="216" x2="806.5" y2="294" stroke="#686c70" stroke-width="1.1"/>
<line x1="826.5" y1="0" x2="826.5" y2="213" stroke="#686c70" stroke-width="1.1"/>
<line x1="826.5" y1="216" x2="826.5" y2="294" stroke="#686c70" stroke-width="1.1"/>
<line x1="846.8" y1="0" x2="846.8" y2="213" stroke="#686c70" stroke-width="1.1"/>
<line x1="846.8" y1="216" x2="846.8" y2="294" stroke="#686c70" stroke-width="1.1"/>
<line x1="867.7" y1="0" x2="867.7" y2="213" stroke="#686c70" stroke-width="1.1"/>
<line x1="867.7" y1="216" x2="867.7" y2="294" stroke="#686c70" stroke-width="1.1"/>
<line x1="889.1" y1="0" x2="889.1" y2="213" stroke="#686c70" stroke-width="1.1"/>
<line x1="889.1" y1="216" x2="889.1" y2="294" stroke="#686c70" stroke-width="1.1"/>
<line x1="909.5" y1="0" x2="909.5" y2="213" stroke="#686c70" stroke-width="1.1"/>
<line x1="909.5" y1="216" x2="909.5" y2="294" stroke="#686c70" stroke-width="1.1"/>
<line x1="931.4" y1="0" x2="931.4" y2="213" stroke="#686c70" stroke-width="1.1"/>
<line x1="931.4" y1="216" x2="931.4" y2="294" stroke="#686c70" stroke-width="1.1"/>
<line x1="952.1" y1="0" x2="952.1" y2="213" stroke="#686c70" stroke-width="1.1"/>
<line x1="952.1" y1="216" x2="952.1" y2="294" stroke="#686c70" stroke-width="1.1"/>
<line x1="972.7" y1="0" x2="972.7" y2="213" stroke="#686c70" stroke-width="1.1"/>
<line x1="972.7" y1="216" x2="972.7" y2="294" stroke="#686c70" stroke-width="1.1"/>
<line x1="994.4" y1="0" x2="994.4" y2="213" stroke="#686c70" stroke-width="1.1"/>
<line x1="994.4" y1="216" x2="994.4" y2="294" stroke="#686c70" stroke-width="1.1"/>
<line x1="1016.0" y1="0" x2="1016.0" y2="213" stroke="#686c70" stroke-width="1.1"/>
<line x1="1016.0" y1="216" x2="1016.0" y2="294" stroke="#686c70" stroke-width="1.1"/>
<line x1="1036.5" y1="0" x2="1036.5" y2="213" stroke="#686c70" stroke-width="1.1"/>
<line x1="1036.5" y1="216" x2="1036.5" y2="294" stroke="#686c70" stroke-width="1.1"/>
<line x1="1142.0" y1="0" x2="1142.0" y2="213" stroke="#686c70" stroke-width="1.1"/>
<line x1="1142.0" y1="216" x2="1142.0" y2="294" stroke="#686c70" stroke-width="1.1"/>
<line x1="1248.0" y1="0" x2="1248.0" y2="213" stroke="#686c70" stroke-width="1.1"/>
<line x1="1248.0" y1="216" x2="1248.0" y2="294" stroke="#686c70" stroke-width="1.1"/>
<line x1="1458.6" y1="0" x2="1458.6" y2="213" stroke="#686c70" stroke-width="1.1"/>
<line x1="1458.6" y1="216" x2="1458.6" y2="294" stroke="#686c70" stroke-width="1.1"/>
<line x1="769.4" y1="257.4" x2="1469" y2="257.4" stroke="#686c70" stroke-width="1.1"/>
<line x1="769.4" y1="281.3" x2="1469" y2="281.3" stroke="#686c70" stroke-width="1.1"/>
<rect x="785.5" y="232.4" width="3.7" height="3.6" fill="#19f019"/>
<rect x="791.8" y="230.9" width="3.8" height="1.5" fill="#9c8614"/>
<rect x="802.7" y="222.8" width="3.8" height="9.6" fill="#9c8614"/>
<rect x="806.5" y="226.0" width="3.7" height="6.4" fill="#19f019"/>
<rect x="822.7" y="226.0" width="3.8" height="6.4" fill="#9c8614"/>
<rect x="826.5" y="232.4" width="3.7" height="3.6" fill="#19f019"/>
<rect x="843.0" y="230.9" width="3.8" height="1.5" fill="#9c8614"/>
<rect x="846.8" y="232.4" width="3.7" height="15.5" fill="#19f019"/>
<rect x="863.9" y="226.0" width="3.8" height="6.4" fill="#9c8614"/>
<rect x="867.7" y="232.4" width="3.7" height="15.5" fill="#19f019"/>
<rect x="885.3" y="228.8" width="3.8" height="3.6" fill="#9c8614"/>
<rect x="889.1" y="232.4" width="3.7" height="19.4" fill="#19f019"/>
<rect x="927.6" y="232.4" width="3.8" height="19.0" fill="#9c8614"/>
<rect x="931.4" y="232.4" width="3.7" height="41.4" fill="#19f019"/>
<rect x="968.9" y="232.4" width="3.8" height="42.8" fill="#9c8614"/>
<rect x="972.7" y="232.4" width="3.7" height="54.2" fill="#19f019"/>
<rect x="1032.7" y="232.4" width="3.8" height="47.0" fill="#9c8614"/>
<rect x="1036.5" y="232.4" width="3.7" height="44.0" fill="#19f019"/>
<rect x="1244.2" y="232.4" width="3.8" height="50.0" fill="#9c8614"/>
<rect x="1248.0" y="222.8" width="3.7" height="9.6" fill="#19f019"/>
<rect x="1454.8" y="232.4" width="3.8" height="49.2" fill="#9c8614"/>
<rect x="1458.6" y="232.4" width="3.7" height="25.5" fill="#19f019"/>
<line x1="769.4" y1="232.4" x2="1469" y2="232.4" stroke="#c4c8ca" stroke-width="1.4"/>
<line x1="769.4" y1="0" x2="769.4" y2="213" stroke="#e8e8e8" stroke-width="1.5"/>
<line x1="769.4" y1="216" x2="769.4" y2="294.3" stroke="#e8e8e8" stroke-width="1.5"/>
<line x1="769.4" y1="294.3" x2="1469" y2="294.3" stroke="#d0d0d0" stroke-width="1.2"/>
<path d="M769.4 37.3 L763.9 39.5 L769.4 41.7Z" fill="#e8e8e8"/>
<text x="763.3" y="42.5" font-size="8.3" fill="#f0f0f0" text-anchor="end" textLength="15.5" lengthAdjust="spacingAndGlyphs" stroke="#f0f0f0" stroke-width="0.3">2.00</text>
<path d="M769.4 76.2 L763.9 78.5 L769.4 80.7Z" fill="#e8e8e8"/>
<text x="763.3" y="81.5" font-size="8.3" fill="#f0f0f0" text-anchor="end" textLength="15.5" lengthAdjust="spacingAndGlyphs" stroke="#f0f0f0" stroke-width="0.3">1.50</text>
<path d="M769.4 115.2 L763.9 117.4 L769.4 119.6Z" fill="#e8e8e8"/>
<text x="763.3" y="120.4" font-size="8.3" fill="#f0f0f0" text-anchor="end" textLength="15.5" lengthAdjust="spacingAndGlyphs" stroke="#f0f0f0" stroke-width="0.3">1.00</text>
<path d="M769.4 154.2 L763.9 156.4 L769.4 158.6Z" fill="#e8e8e8"/>
<text x="763.3" y="159.4" font-size="8.3" fill="#f0f0f0" text-anchor="end" textLength="15.5" lengthAdjust="spacingAndGlyphs" stroke="#f0f0f0" stroke-width="0.3">0.50</text>
<path d="M769.4 193.1 L763.9 195.3 L769.4 197.5Z" fill="#e8e8e8"/>
<text x="763.3" y="198.3" font-size="8.3" fill="#f0f0f0" text-anchor="end" textLength="15.5" lengthAdjust="spacingAndGlyphs" stroke="#f0f0f0" stroke-width="0.3">0.00</text>
<path d="M769.4 0 L763.9 0.6 L769.4 2.8Z" fill="#e8e8e8"/>
<line x1="766.4" y1="20.0" x2="769.4" y2="20.0" stroke="#e8e8e8" stroke-width="1"/>
<line x1="766.4" y1="59.0" x2="769.4" y2="59.0" stroke="#e8e8e8" stroke-width="1"/>
<line x1="766.4" y1="97.9" x2="769.4" y2="97.9" stroke="#e8e8e8" stroke-width="1"/>
<line x1="766.4" y1="136.9" x2="769.4" y2="136.9" stroke="#e8e8e8" stroke-width="1"/>
<line x1="766.4" y1="175.8" x2="769.4" y2="175.8" stroke="#e8e8e8" stroke-width="1"/>
<path d="M769.4 230.2 L763.9 232.4 L769.4 234.6Z" fill="#e8e8e8"/>
<text x="763.3" y="235.4" font-size="8.3" fill="#f0f0f0" text-anchor="end" textLength="15.5" lengthAdjust="spacingAndGlyphs" stroke="#f0f0f0" stroke-width="0.3">0.00</text>
<path d="M769.4 255.2 L763.9 257.4 L769.4 259.6Z" fill="#e8e8e8"/>
<text x="763.3" y="260.4" font-size="8.3" fill="#f0f0f0" text-anchor="end" textLength="18.8" lengthAdjust="spacingAndGlyphs" stroke="#f0f0f0" stroke-width="0.3">-2.00</text>
<path d="M769.4 279.1 L763.9 281.3 L769.4 283.5Z" fill="#e8e8e8"/>
<text x="763.3" y="284.3" font-size="8.3" fill="#f0f0f0" text-anchor="end" textLength="18.8" lengthAdjust="spacingAndGlyphs" stroke="#f0f0f0" stroke-width="0.3">-4.00</text>
<line x1="766.4" y1="220.4" x2="769.4" y2="220.4" stroke="#e8e8e8" stroke-width="1"/>
<line x1="766.4" y1="244.3" x2="769.4" y2="244.3" stroke="#e8e8e8" stroke-width="1"/>
<line x1="766.4" y1="268.5" x2="769.4" y2="268.5" stroke="#e8e8e8" stroke-width="1"/>
<text x="785.5" y="304.0" font-size="8.4" fill="#f0f0f0" text-anchor="middle" textLength="9.2" lengthAdjust="spacingAndGlyphs" stroke="#f0f0f0" stroke-width="0.3">1M</text>
<text x="806.5" y="304.0" font-size="8.4" fill="#f0f0f0" text-anchor="middle" textLength="9.2" lengthAdjust="spacingAndGlyphs" stroke="#f0f0f0" stroke-width="0.3">3M</text>
<text x="826.5" y="304.0" font-size="8.4" fill="#f0f0f0" text-anchor="middle" textLength="9.2" lengthAdjust="spacingAndGlyphs" stroke="#f0f0f0" stroke-width="0.3">6M</text>
<text x="846.8" y="304.0" font-size="8.4" fill="#f0f0f0" text-anchor="middle" textLength="9.2" lengthAdjust="spacingAndGlyphs" stroke="#f0f0f0" stroke-width="0.3">1Y</text>
<text x="867.7" y="304.0" font-size="8.4" fill="#f0f0f0" text-anchor="middle" textLength="9.2" lengthAdjust="spacingAndGlyphs" stroke="#f0f0f0" stroke-width="0.3">2Y</text>
<text x="889.1" y="304.0" font-size="8.4" fill="#f0f0f0" text-anchor="middle" textLength="9.2" lengthAdjust="spacingAndGlyphs" stroke="#f0f0f0" stroke-width="0.3">3Y</text>
<text x="909.5" y="304.0" font-size="8.4" fill="#f0f0f0" text-anchor="middle" textLength="9.2" lengthAdjust="spacingAndGlyphs" stroke="#f0f0f0" stroke-width="0.3">4Y</text>
<text x="931.4" y="304.0" font-size="8.4" fill="#f0f0f0" text-anchor="middle" textLength="9.2" lengthAdjust="spacingAndGlyphs" stroke="#f0f0f0" stroke-width="0.3">5Y</text>
<text x="952.1" y="304.0" font-size="8.4" fill="#f0f0f0" text-anchor="middle" textLength="9.2" lengthAdjust="spacingAndGlyphs" stroke="#f0f0f0" stroke-width="0.3">6Y</text>
<text x="972.7" y="304.0" font-size="8.4" fill="#f0f0f0" text-anchor="middle" textLength="9.2" lengthAdjust="spacingAndGlyphs" stroke="#f0f0f0" stroke-width="0.3">7Y</text>
<text x="994.4" y="304.0" font-size="8.4" fill="#f0f0f0" text-anchor="middle" textLength="9.2" lengthAdjust="spacingAndGlyphs" stroke="#f0f0f0" stroke-width="0.3">8Y</text>
<text x="1016.0" y="304.0" font-size="8.4" fill="#f0f0f0" text-anchor="middle" textLength="9.2" lengthAdjust="spacingAndGlyphs" stroke="#f0f0f0" stroke-width="0.3">9Y</text>
<text x="1036.5" y="304.0" font-size="8.4" fill="#f0f0f0" text-anchor="middle" textLength="13.8" lengthAdjust="spacingAndGlyphs" stroke="#f0f0f0" stroke-width="0.3">10Y</text>
<text x="1142.0" y="304.0" font-size="8.4" fill="#f0f0f0" text-anchor="middle" textLength="13.8" lengthAdjust="spacingAndGlyphs" stroke="#f0f0f0" stroke-width="0.3">15Y</text>
<text x="1248.0" y="304.0" font-size="8.4" fill="#f0f0f0" text-anchor="middle" textLength="13.8" lengthAdjust="spacingAndGlyphs" stroke="#f0f0f0" stroke-width="0.3">20Y</text>
<text x="1458.6" y="304.0" font-size="8.4" fill="#f0f0f0" text-anchor="middle" textLength="13.8" lengthAdjust="spacingAndGlyphs" stroke="#f0f0f0" stroke-width="0.3">30Y</text>
<text x="1121.4" y="316.8" font-size="11" fill="#f0f0f0" text-anchor="middle" textLength="27.0" lengthAdjust="spacingAndGlyphs" stroke="#f0f0f0" stroke-width="0.3">Tenor</text>
<polyline points="785.5,195.3 795.6,194.8 806.5,194.3 826.5,192.8 846.8,192.2 867.7,184.0 889.1,171.8 931.4,133.3 972.7,99.4 1036.5,73.7 1248.0,27.2 1458.6,19.5" fill="none" stroke="#18b018" stroke-width="1.8"/>
<polyline points="785.5,195.2 795.6,194.7 806.5,194.2 826.5,192.7 846.8,192.0 867.7,183.4 889.1,171.4 931.4,131.5 972.7,97.1 1036.5,69.8 1248.0,27.2 1458.6,19.2" fill="none" stroke="#30f030" stroke-width="2" stroke-dasharray="5 2.6"/>
<polyline points="785.5,195.2 795.6,194.7 806.5,194.2 826.5,192.6 846.8,191.9 867.7,183.2 889.1,171.2 931.4,130.5 972.7,95.9 1036.5,68.6 1248.0,22.6 1458.6,17.1" fill="none" stroke="#b89020" stroke-width="1.5" stroke-dasharray="1.2 1.4"/>
<circle cx="785.5" cy="195.3" r="2.7" fill="#18b018"/>
<circle cx="795.6" cy="194.8" r="2.7" fill="#18b018"/>
<circle cx="806.5" cy="194.3" r="2.7" fill="#18b018"/>
<circle cx="826.5" cy="192.8" r="2.7" fill="#18b018"/>
<circle cx="846.8" cy="192.2" r="2.7" fill="#18b018"/>
<circle cx="867.7" cy="184.0" r="2.7" fill="#18b018"/>
<circle cx="889.1" cy="171.8" r="2.7" fill="#18b018"/>
<circle cx="931.4" cy="133.3" r="2.7" fill="#18b018"/>
<circle cx="972.7" cy="99.4" r="2.7" fill="#18b018"/>
<circle cx="1036.5" cy="73.7" r="2.7" fill="#18b018"/>
<circle cx="1248.0" cy="27.2" r="2.7" fill="#18b018"/>
<circle cx="1458.6" cy="19.5" r="2.7" fill="#18b018"/>
<rect x="783.1" y="192.8" width="4.8" height="4.8" rx="1" fill="none" stroke="#30e030" stroke-width="1"/>
<rect x="793.2" y="192.3" width="4.8" height="4.8" rx="1" fill="none" stroke="#30e030" stroke-width="1"/>
<rect x="804.1" y="191.8" width="4.8" height="4.8" rx="1" fill="none" stroke="#30e030" stroke-width="1"/>
<rect x="824.1" y="190.3" width="4.8" height="4.8" rx="1" fill="none" stroke="#30e030" stroke-width="1"/>
<rect x="844.4" y="189.6" width="4.8" height="4.8" rx="1" fill="none" stroke="#30e030" stroke-width="1"/>
<rect x="865.3" y="181.0" width="4.8" height="4.8" rx="1" fill="none" stroke="#30e030" stroke-width="1"/>
<rect x="886.7" y="169.0" width="4.8" height="4.8" rx="1" fill="none" stroke="#30e030" stroke-width="1"/>
<rect x="929.0" y="129.1" width="4.8" height="4.8" rx="1" fill="none" stroke="#30e030" stroke-width="1"/>
<rect x="970.3" y="94.7" width="4.8" height="4.8" rx="1" fill="none" stroke="#30e030" stroke-width="1"/>
<rect x="1034.1" y="67.4" width="4.8" height="4.8" rx="1" fill="none" stroke="#30e030" stroke-width="1"/>
<rect x="1245.6" y="24.8" width="4.8" height="4.8" rx="1" fill="none" stroke="#30e030" stroke-width="1"/>
<rect x="1456.2" y="16.8" width="4.8" height="4.8" rx="1" fill="none" stroke="#30e030" stroke-width="1"/>
<path d="M783.5 195.2 L787.5 195.2 M785.5 193.2 L785.5 197.2 M784.1 193.8 L786.9 196.6 M786.9 193.8 L784.1 196.6" stroke="#a88a20" stroke-width="0.9"/>
<path d="M793.6 194.7 L797.6 194.7 M795.6 192.7 L795.6 196.7 M794.2 193.3 L797.0 196.1 M797.0 193.3 L794.2 196.1" stroke="#a88a20" stroke-width="0.9"/>
<path d="M804.5 194.2 L808.5 194.2 M806.5 192.2 L806.5 196.2 M805.1 192.8 L807.9 195.6 M807.9 192.8 L805.1 195.6" stroke="#a88a20" stroke-width="0.9"/>
<path d="M824.5 192.6 L828.5 192.6 M826.5 190.6 L826.5 194.6 M825.1 191.2 L827.9 194.0 M827.9 191.2 L825.1 194.0" stroke="#a88a20" stroke-width="0.9"/>
<path d="M844.8 191.9 L848.8 191.9 M846.8 189.9 L846.8 193.9 M845.4 190.5 L848.2 193.3 M848.2 190.5 L845.4 193.3" stroke="#a88a20" stroke-width="0.9"/>
<path d="M865.7 183.2 L869.7 183.2 M867.7 181.2 L867.7 185.2 M866.3 181.8 L869.1 184.6 M869.1 181.8 L866.3 184.6" stroke="#a88a20" stroke-width="0.9"/>
<path d="M887.1 171.2 L891.1 171.2 M889.1 169.2 L889.1 173.2 M887.7 169.8 L890.5 172.6 M890.5 169.8 L887.7 172.6" stroke="#a88a20" stroke-width="0.9"/>
<path d="M929.4 130.5 L933.4 130.5 M931.4 128.5 L931.4 132.5 M930.0 129.1 L932.8 131.9 M932.8 129.1 L930.0 131.9" stroke="#a88a20" stroke-width="0.9"/>
<path d="M970.7 95.9 L974.7 95.9 M972.7 93.9 L972.7 97.9 M971.3 94.5 L974.1 97.3 M974.1 94.5 L971.3 97.3" stroke="#a88a20" stroke-width="0.9"/>
<path d="M1034.5 68.6 L1038.5 68.6 M1036.5 66.6 L1036.5 70.6 M1035.1 67.2 L1037.9 70.0 M1037.9 67.2 L1035.1 70.0" stroke="#a88a20" stroke-width="0.9"/>
<path d="M1246.0 22.6 L1250.0 22.6 M1248.0 20.6 L1248.0 24.6 M1246.6 21.2 L1249.4 24.0 M1249.4 21.2 L1246.6 24.0" stroke="#a88a20" stroke-width="0.9"/>
<path d="M1456.6 17.1 L1460.6 17.1 M1458.6 15.1 L1458.6 19.1 M1457.2 15.7 L1460.0 18.5 M1460.0 15.7 L1457.2 18.5" stroke="#a88a20" stroke-width="0.9"/>
<rect x="1162.8" y="75.4" width="223.6" height="40.9" rx="3" fill="#111417" fill-opacity="0.78"/>
<circle cx="1171.6" cy="86.6" r="2.4" fill="#19c019"/>
<rect x="1169.8" y="95.2" width="3.6" height="3.8" fill="none" stroke="#12a812" stroke-width="1"/>
<path d="M1169.2 107.3 L1174 107.3 M1171.6 104.9 L1171.6 109.7 M1169.9 105.6 L1173.3 109 M1173.3 105.6 L1169.9 109" stroke="#a08a20" stroke-width="1.1"/>
<text x="1177.9" y="89.9" font-size="8.8" fill="#f0f0f0" textLength="204.8" lengthAdjust="spacingAndGlyphs" stroke="#f0f0f0" stroke-width="0.3">I25 US Treasury Actives Curve Last Mid YTM 12:41:02</text>
<text x="1177.9" y="100.2" font-size="8.8" fill="#f0f0f0" textLength="160.8" lengthAdjust="spacingAndGlyphs" stroke="#f0f0f0" stroke-width="0.3">I25 US Treasury Actives Curve 1M Mid YTM</text>
<text x="1177.9" y="110.7" font-size="8.8" fill="#f0f0f0" textLength="160.8" lengthAdjust="spacingAndGlyphs" stroke="#f0f0f0" stroke-width="0.3">I25 US Treasury Actives Curve 1W Mid YTM</text>
<rect x="1075.4" y="229.2" width="108.6" height="41.1" rx="3" fill="#15181b" fill-opacity="0.72"/>
<text x="1129.4" y="242.7" font-size="8.6" fill="#f0f0f0" text-anchor="middle" textLength="26.0" lengthAdjust="spacingAndGlyphs" stroke="#f0f0f0" stroke-width="0.3">Change</text>
<rect x="1081.0" y="246.8" width="7.2" height="7.2" rx="1" fill="none" stroke="#9c8614" stroke-width="0.8" stroke-dasharray="2 1.2"/>
<rect x="1081.0" y="257.2" width="7.2" height="7.2" rx="1" fill="none" stroke="#19c019" stroke-width="0.9" stroke-dasharray="5 3"/>
<text x="1091.7" y="253.6" font-size="8.8" fill="#f0f0f0" textLength="86.7" lengthAdjust="spacingAndGlyphs" stroke="#f0f0f0" stroke-width="0.3">I25 Mid YTM (Last-1W)</text>
<text x="1091.7" y="264.0" font-size="8.8" fill="#f0f0f0" textLength="86.7" lengthAdjust="spacingAndGlyphs" stroke="#f0f0f0" stroke-width="0.3">I25 Mid YTM (Last-1M)</text>
</svg></body></html>
